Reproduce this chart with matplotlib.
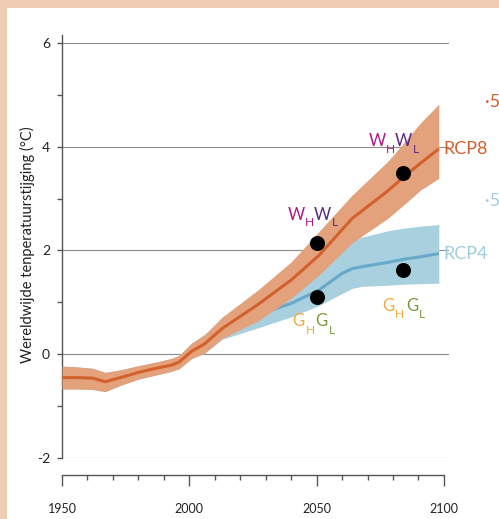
import matplotlib
matplotlib.use("Agg")
from matplotlib import pyplot as plt
from matplotlib.patches import Rectangle
from matplotlib.ticker import MultipleLocator

plt.rcParams['font.family'] = ['Lato', 'DejaVu Sans']

# historical part (shared by both scenarios)
hist_years = [1950, 1955, 1962, 1967, 1973, 1980, 1987, 1993, 1996, 2001, 2006]
hist_mid = [-0.45, -0.45, -0.46, -0.53, -0.45, -0.35, -0.27, -0.21, -0.15, 0.06, 0.20]
hist_hi = [-0.23, -0.24, -0.27, -0.35, -0.30, -0.22, -0.15, -0.08, -0.02, 0.22, 0.38]
hist_lo = [-0.67, -0.67, -0.68, -0.72, -0.60, -0.48, -0.40, -0.33, -0.28, -0.08, 0.02]

# RCP8.5
rcp85_years = [2006, 2013, 2027, 2040, 2051, 2064, 2078, 2084, 2091, 2098]
rcp85_mid = [0.20, 0.50, 0.96, 1.43, 1.91, 2.62, 3.15, 3.41, 3.69, 3.96]
rcp85_hi = [0.38, 0.72, 1.24, 1.78, 2.37, 3.07, 3.72, 4.06, 4.47, 4.82]
rcp85_lo = [0.02, 0.31, 0.64, 1.08, 1.53, 2.15, 2.62, 2.87, 3.17, 3.39]

# RCP4.5
rcp45_years = [2006, 2013, 2027, 2040, 2051, 2060, 2064, 2068, 2078, 2084, 2091, 2098]
rcp45_mid = [0.20, 0.49, 0.76, 0.98, 1.24, 1.56, 1.65, 1.69, 1.77, 1.83, 1.88, 1.94]
rcp45_hi = [0.38, 0.69, 1.08, 1.37, 1.75, 2.03, 2.20, 2.26, 2.38, 2.43, 2.47, 2.50]
rcp45_lo = [0.02, 0.29, 0.51, 0.72, 0.94, 1.17, 1.27, 1.31, 1.33, 1.35, 1.36, 1.37]

# KNMI scenario points
w_years = [2050, 2084]
w_vals = [2.15, 3.49]
g_years = [2050, 2084]
g_vals = [1.10, 1.62]

ORANGE = '#D2612B'
ORANGE_BAND = '#E3A27C'
BLUE = '#68A8C8'
BLUE_BAND = '#A8D0DF'
BLUE_TEXT = '#9FCDE0'

fig = plt.figure(figsize=(4.99, 5.19), dpi=100)
fig.patch.set_facecolor('#EFCDB5')
fig.add_artist(Rectangle((7 / 499, 0), 1, 1 - 8 / 519, transform=fig.transFigure,
                         facecolor='white', edgecolor='none', zorder=0))

ax = fig.add_axes([62 / 499, 61 / 519, 387 / 499, 423 / 519])
ax.set_facecolor('none')
ax.set_xlim(1950, 2102)
ax.set_ylim(-2, 6.154)

for y in [-2, 0, 2, 4, 6]:
    ax.axhline(y, color='#8c8c8c', lw=0.8, zorder=1)

# RCP4.5 first, RCP8.5 on top
ax.fill_between(hist_years, hist_lo, hist_hi, color=BLUE_BAND, lw=0, zorder=2)
ax.fill_between(rcp45_years, rcp45_lo, rcp45_hi, color=BLUE_BAND, lw=0, zorder=2)
ax.plot(rcp45_years, rcp45_mid, color=BLUE, lw=2.2, zorder=3, solid_capstyle='butt')
ax.fill_between(hist_years, hist_lo, hist_hi, color=ORANGE_BAND, lw=0, zorder=4)
ax.fill_between(rcp85_years, rcp85_lo, rcp85_hi, color=ORANGE_BAND, lw=0, zorder=4)
ax.plot(hist_years + rcp85_years[1:], hist_mid + rcp85_mid[1:], color=ORANGE, lw=2.2,
        zorder=5, solid_capstyle='butt')

ax.scatter(w_years + g_years, w_vals + g_vals, s=117, color='black', zorder=6, lw=0)


def label(x, y, pieces):
    # pieces: (text, color, size, dx_px, dy_px)
    for txt, col, size, dx, dy in pieces:
        ax.annotate(txt, (x, y), xytext=(dx * 0.72, dy * 0.72), textcoords='offset points',
                    color=col, fontsize=size, ha='left', va='baseline', zorder=7)


WH = '#B5177F'
WL = '#5A2A82'
GH = '#F5A93A'
GL = '#7A9A3A'
label(w_years[0], w_vals[0], [('W', WH, 12, -29, 23), ('H', WH, 8.5, -12, 17),
                              ('W', WL, 12, -3, 23), ('L', WL, 8.5, 15, 17)])
label(w_years[1], w_vals[1], [('W', WH, 12, -34, 27), ('H', WH, 8.5, -17, 20),
                              ('W', WL, 12, -8, 27), ('L', WL, 8.5, 10, 20)])
label(g_years[0], g_vals[0], [('G', GH, 12, -24, -29), ('H', GH, 8.5, -11, -37),
                              ('G', GL, 12, -1, -29), ('L', GL, 8.5, 12, -37)])
label(g_years[1], g_vals[1], [('G', GH, 12, -21, -41), ('H', GH, 8.5, -8, -48),
                              ('G', GL, 12, 3, -41), ('L', GL, 8.5, 16, -48)])

ax.annotate('RCP8', (rcp85_years[-1], rcp85_mid[-1]), xytext=(3.6, 0), textcoords='offset points',
            color=ORANGE, fontsize=13, ha='left', va='center')
ax.annotate('·5', (rcp85_years[-1], rcp85_mid[-1]), xytext=(33, 34), textcoords='offset points',
            color=ORANGE, fontsize=13, ha='left', va='center')
ax.annotate('RCP4', (rcp45_years[-1], rcp45_mid[-1]), xytext=(3.6, 0), textcoords='offset points',
            color=BLUE_TEXT, fontsize=13, ha='left', va='center')
ax.annotate('·5', (rcp45_years[-1], rcp45_mid[-1]), xytext=(33, 38), textcoords='offset points',
            color=BLUE_TEXT, fontsize=13, ha='left', va='center')

# axes styling
for s in ['top', 'right']:
    ax.spines[s].set_visible(False)
ax.spines['left'].set_color('#555555')
ax.spines['left'].set_linewidth(1.0)
ax.spines['bottom'].set_color('#555555')
ax.spines['bottom'].set_linewidth(1.0)
ax.spines['bottom'].set_position(('outward', 12.2))
ax.spines['bottom'].set_bounds(1950, 2100)

ax.set_xticks([1950, 2000, 2050, 2100])
ax.xaxis.set_minor_locator(MultipleLocator(10))
ax.set_yticks([-2, 0, 2, 4, 6])
ax.set_yticklabels(['-2', '0', '2', '4', '6'])
ax.yaxis.set_minor_locator(MultipleLocator(1))
ax.tick_params(axis='x', which='major', direction='out', length=7.9, width=1.0,
               color='#555555', pad=12, labelsize=9, labelcolor='#222222')
ax.tick_params(axis='x', which='minor', direction='out', length=3.6, width=1.0, color='#555555')
ax.tick_params(axis='y', which='both', direction='out', length=3.6, width=1.0,
               color='#555555', pad=5, labelsize=10, labelcolor='#222222')

fig.text(27 / 499, 1 - 245 / 519, 'Wereldwijde tenperatuurstijging (°C)', rotation=90,
         ha='center', va='center', fontsize=10.5, color='#222222')

fig.savefig('out.png', dpi=100, facecolor=fig.get_facecolor())
